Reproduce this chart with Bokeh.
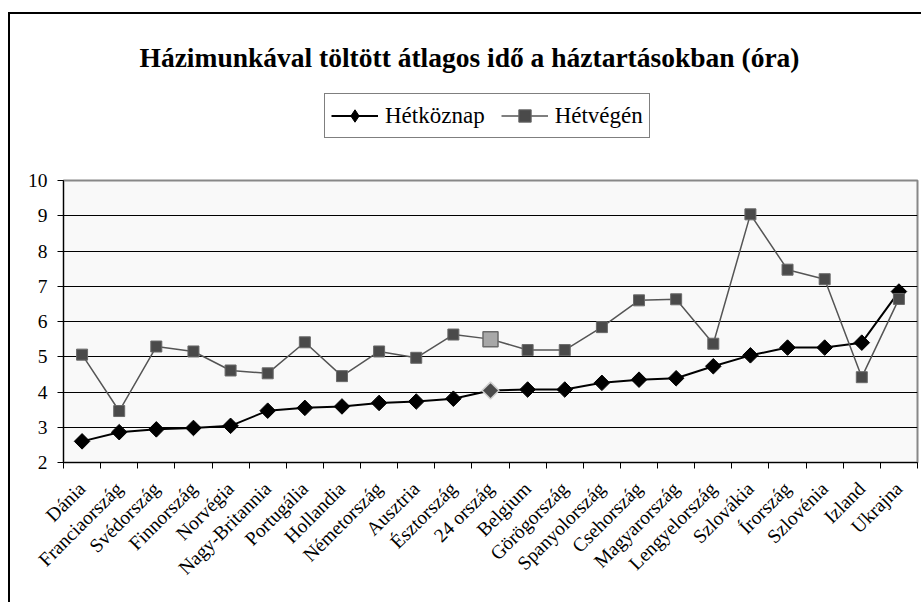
import math
from bokeh.plotting import figure
from bokeh.layouts import column
from bokeh.models import Range1d, FixedTicker, Legend, LegendItem, Label
from bokeh.embed import file_html
from bokeh.resources import INLINE

# ---- data ----
categories = ["Dánia", "Franciaország", "Svédország", "Finnország", "Norvégia",
              "Nagy-Britannia", "Portugália", "Hollandia", "Németország", "Ausztria",
              "Észtország", "24 ország", "Belgium", "Görögország", "Spanyolország",
              "Csehország", "Magyarország", "Lengyelország", "Szlovákia", "Írország",
              "Szlovénia", "Izland", "Ukrajna"]
hetkoznap = [2.60, 2.86, 2.94, 2.98, 3.04, 3.47, 3.55, 3.59, 3.69, 3.73, 3.81, 4.04,
             4.07, 4.07, 4.26, 4.35, 4.39, 4.73, 5.04, 5.26, 5.26, 5.40, 6.85]
hetvegen = [5.06, 3.46, 5.29, 5.15, 4.61, 4.53, 5.41, 4.45, 5.15, 4.97, 5.63, 5.50,
            5.19, 5.19, 5.84, 6.60, 6.63, 5.37, 9.04, 7.47, 7.20, 4.42, 6.64]
y_ticks = [2, 3, 4, 5, 6, 7, 8, 9, 10]
highlight = "24 ország"
series_names = ["Hétköznap", "Hétvégén"]
title_text = "Házimunkával töltött átlagos idő a háztartásokban (óra)"

FONT = "Liberation Serif"
W = 911
FRAME_W = 854
TOP_H = 150
n = len(categories)
xs = [i + 0.5 for i in range(n)]
NAN = float("nan")

# ---------- header (title + legend) ----------
# (its frame is aligned by the column with the chart's frame)
head = figure(width=W, height=TOP_H, output_backend="svg", toolbar_location=None,
              title_location=None, x_axis_location=None, y_axis_location=None,
              x_range=Range1d(0, FRAME_W), y_range=Range1d(0, TOP_H),
              min_border=0, min_border_left=53, min_border_right=4,
              outline_line_color=None,
              background_fill_color="white", border_fill_color="white")
head.xgrid.visible = False
head.ygrid.visible = False

head.add_layout(Label(x=406, y=107, text=title_text, text_align="center",
                      text_baseline="middle", text_font=FONT,
                      text_font_style="bold", text_font_size="27.5px",
                      text_color="black"))

# legend keys (same styling as the chart's series; no visible points)
k1l = head.line(x=[NAN], y=[NAN], line_color="black", line_width=2)
k1m = head.scatter(x=[NAN], y=[NAN], marker="diamond", fill_color="black",
                   line_color="black")
k2l = head.line(x=[NAN], y=[NAN], line_color="#555555", line_width=1.5)
k2m = head.scatter(x=[NAN], y=[NAN], marker="square", fill_color="#4a4a4a",
                   line_color="#6a6a6a")

legend = Legend(items=[LegendItem(label=series_names[0], renderers=[k1l, k1m]),
                       LegendItem(label=series_names[1], renderers=[k2l, k2m])],
                location=(261, 26), orientation="horizontal",
                border_line_color="black", border_line_width=1,
                background_fill_color="white", background_fill_alpha=1,
                label_text_font=FONT, label_text_font_size="23px",
                label_text_color="black",
                glyph_width=47, glyph_height=31, label_standoff=7,
                spacing=16, padding=6, margin=0)
head.add_layout(legend)

# ---------- chart ----------
p = figure(width=W, height=438, output_backend="svg", toolbar_location=None,
           title_location=None,
           x_range=Range1d(0, n), y_range=Range1d(y_ticks[0], y_ticks[-1]),
           min_border_left=53, min_border_right=4, min_border_top=16,
           min_border_bottom=140,
           background_fill_color="#f9f9f9", border_fill_color="white",
           outline_line_color="#888888", outline_line_width=2)

# x axis: labels at category centres, ticks at boundaries
xa = p.xaxis[0]
xa.ticker = FixedTicker(ticks=xs, minor_ticks=list(range(0, n + 1)))
xa.major_label_overrides = {x: c for x, c in zip(xs, categories)}
xa.major_tick_out = 0
xa.major_tick_in = 0
xa.minor_tick_out = 6
xa.minor_tick_in = 0
xa.minor_tick_line_color = "black"
xa.axis_line_color = "black"
xa.major_label_orientation = math.pi / 4
xa.major_label_text_font = FONT
xa.major_label_text_font_size = "19.5px"
xa.major_label_text_color = "black"
xa.major_label_standoff = 17

ya = p.yaxis[0]
ya.ticker = FixedTicker(ticks=y_ticks)
ya.major_tick_out = 6
ya.major_tick_in = 0
ya.minor_tick_line_color = None
ya.major_tick_line_color = "black"
ya.axis_line_color = "black"
ya.major_label_text_font = FONT
ya.major_label_text_font_size = "19.5px"
ya.major_label_text_color = "black"
ya.major_label_standoff = 10

p.xgrid.visible = False
p.ygrid.ticker = FixedTicker(ticks=y_ticks)
p.ygrid.grid_line_color = "black"
p.ygrid.grid_line_width = 1

# series
p.line(xs, hetkoznap, line_color="black", line_width=2)
p.scatter(xs, hetkoznap, marker="square", angle=math.pi / 4, size=11,
          fill_color="black", line_color="black")
p.line(xs, hetvegen, line_color="#555555", line_width=1.5)
p.scatter(xs, hetvegen, marker="square", size=11,
          fill_color="#4a4a4a", line_color="#6a6a6a")

hi = categories.index(highlight)
p.scatter([xs[hi]], [hetkoznap[hi]], marker="square", angle=math.pi / 4, size=12,
          fill_color="#4a4a4a", line_color="#d0d0d0", line_width=1.5)
p.scatter([xs[hi]], [hetvegen[hi]], marker="square", size=15,
          fill_color="#a8a8a8", line_color="#6a6a6a", line_width=1.5)

layout = column(head, p, spacing=0,
                styles={"border-left": "2px solid black",
                        "border-top": "2px solid black",
                        "margin-top": "12px", "margin-left": "8px"})

open("out.html", "w").write(file_html(layout, INLINE))
